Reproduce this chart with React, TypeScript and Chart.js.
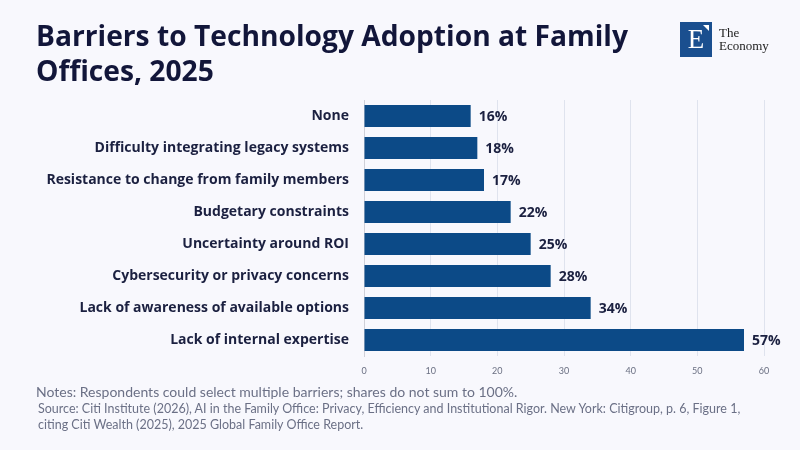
import React, { useEffect, useRef } from "react";
import { Chart, registerables } from "chart.js";

Chart.register(...registerables);

const categories = [
  "None",
  "Difficulty integrating legacy systems",
  "Resistance to change from family members",
  "Budgetary constraints",
  "Uncertainty around ROI",
  "Cybersecurity or privacy concerns",
  "Lack of awareness of available options",
  "Lack of internal expertise",
];
const barValues = [16, 17, 18, 22, 25, 28, 34, 57];
const valueLabels = ["16%", "18%", "17%", "22%", "25%", "28%", "34%", "57%"];
const xTicks = [0, 10, 20, 30, 40, 50, 60];

const FONT = "Lato, 'Noto Sans', sans-serif";
const BOLD_FONT = "'Open Sans', 'Noto Sans', sans-serif";
const BG = "#f8f8fd";
const NAVY = "#12163a";

const valueLabelPlugin = {
  id: "valueLabels",
  afterDatasetsDraw(chart: any) {
    const { ctx } = chart;
    const meta = chart.getDatasetMeta(0);
    ctx.save();
    ctx.font = `bold 14px ${BOLD_FONT}`;
    ctx.fillStyle = "#1b2040";
    ctx.textAlign = "left";
    ctx.textBaseline = "middle";
    meta.data.forEach((bar: any, i: number) => {
      ctx.fillText(valueLabels[i], bar.x + 8, bar.y + 1);
    });
    ctx.restore();
  },
};

export default function App() {
  const ref = useRef<HTMLCanvasElement>(null);
  useEffect(() => {
    if (!ref.current) return;
    const chart = new Chart(ref.current, {
      type: "bar",
      data: {
        labels: categories,
        datasets: [
          {
            data: barValues,
            backgroundColor: "#0c4a87",
            barPercentage: 0.69,
            categoryPercentage: 1,
          },
        ],
      },
      options: {
        indexAxis: "y",
        animation: false,
        responsive: false,
        maintainAspectRatio: false,
        layout: { padding: { left: 0, right: 36, top: 100, bottom: 64 } },
        plugins: { legend: { display: false }, tooltip: { enabled: false } },
        scales: {
          x: {
            min: 0,
            max: 60,
            afterBuildTicks: (scale: any) => {
              scale.ticks = xTicks.map((v) => ({ value: v }));
            },
            afterFit: (scale: any) => {
              scale.height = 30;
            },
            grid: { color: "#dfe3ee", drawTicks: false },
            border: { display: false },
            ticks: {
              padding: 10,
              color: "#6a6f82",
              font: { family: FONT, size: 9 },
            },
          },
          y: {
            afterFit: (scale: any) => {
              scale.width = 364;
            },
            grid: { display: false, drawTicks: false },
            border: { display: true, color: "#cfd0d8", width: 1 },
            ticks: {
              padding: 15,
              color: "#1b2040",
              font: { family: BOLD_FONT, size: 14, weight: "bold" },
            },
          },
        },
      },
      plugins: [valueLabelPlugin],
    });
    return () => chart.destroy();
  }, []);

  return (
    <div
      style={{
        position: "absolute",
        left: 0,
        top: 0,
        width: 800,
        height: 450,
        background: BG,
        fontFamily: FONT,
        overflow: "hidden",
      }}
    >
      <canvas ref={ref} width={800} height={450} style={{ position: "absolute", left: 0, top: 0, width: 800, height: 450 }} />
      <div
        style={{
          position: "absolute",
          left: 36,
          top: 18,
          width: 640,
          fontFamily: BOLD_FONT,
          fontSize: 28.2,
          fontWeight: 700,
          lineHeight: "35px",
          color: NAVY,
        }}
      >
        Barriers to Technology Adoption at Family
        <br />
        Offices, 2025
      </div>
      <div style={{ position: "absolute", left: 680, top: 22, width: 32, height: 35, background: "#1a4f8f" }}>
        <div
          style={{
            position: "absolute",
            left: 0,
            top: 2,
            width: 32,
            textAlign: "center",
            color: "#fff",
            fontFamily: "'Liberation Serif', 'DejaVu Serif', serif",
            fontSize: 27,
            lineHeight: "31px",
          }}
        >
          E
        </div>
        <div
          style={{
            position: "absolute",
            right: 3,
            top: 3,
            width: 0,
            height: 0,
            borderTop: "6px solid #fff",
            borderLeft: "6px solid transparent",
          }}
        />
      </div>
      <div
        style={{
          position: "absolute",
          left: 719,
          top: 26,
          fontFamily: "'Liberation Serif', 'DejaVu Serif', serif",
          fontSize: 13,
          lineHeight: "13px",
          color: "#222",
        }}
      >
        The
        <br />
        Economy
      </div>
      <div style={{ position: "absolute", left: 36, top: 383, fontSize: 14, color: "#6b7086", whiteSpace: "nowrap" }}>
        Notes: Respondents could select multiple barriers; shares do not sum to 100%.
      </div>
      <div
        style={{
          position: "absolute",
          left: 38,
          top: 401,
          fontSize: 12.5,
          lineHeight: "16px",
          color: "#6b7086",
          width: 740,
        }}
      >
        Source: Citi Institute (2026), AI in the Family Office: Privacy, Efficiency and Institutional Rigor. New York: Citigroup, p. 6, Figure 1,
        <br />
        citing Citi Wealth (2025), 2025 Global Family Office Report.
      </div>
    </div>
  );
}
